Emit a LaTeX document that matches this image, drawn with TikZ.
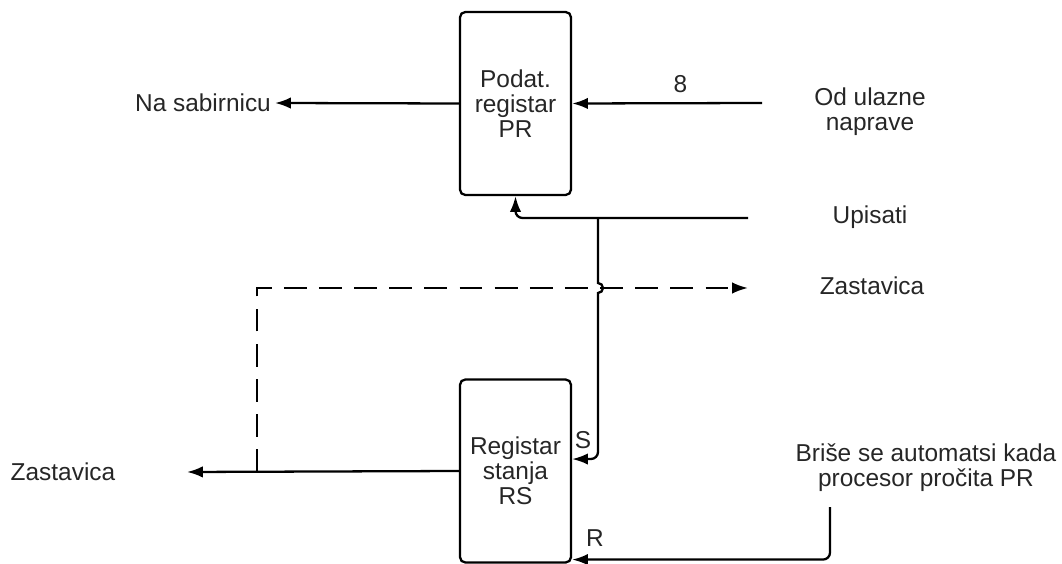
\documentclass[tikz,border=0pt]{standalone}
\usepackage{fontspec}
\setmainfont{Liberation Sans}
\usetikzlibrary{arrows.meta}
\tikzset{>={Latex[length=9pt,width=6.5pt]}}
\tikzset{
  reg/.style={draw, line width=1.3pt, rounded corners=3pt, minimum width=2.22cm, minimum height=3.66cm, align=center, text=black!85},
  lbl/.style={align=center, text=black!85},
  wire/.style={line width=1.3pt},
}

\begin{document}
\begin{tikzpicture}[x=0.02cm, y=-0.02cm, font=\fontsize{13.9}{14.2}\selectfont]
\useasboundingbox (0,0) rectangle (1062,564);

% registers
\node[reg] (pr) at (515.5,103.5) {Podat.\\registar\\PR};
\node[reg] (rs) at (515.5,471) {Registar\\stanja\\RS};

% labels
\node[lbl] (nasab) at (203,103) {Na sabirnicu};
\node[lbl] (odul) at (870,112) {Od ulazne\\naprave};
\node[lbl] (upis) at (870,217) {Upisati};
\node[lbl] (zdes) at (872,286) {Zastavica};
\node[lbl] (zlij) at (63,472) {Zastavica};
\node[lbl] (brise) at (926,468) {Briše se automatsi kada\\procesor pročita PR};

\coordinate (nsend) at (275,103);
\coordinate (in8) at (762,103);
\coordinate (wr) at (748,218);
\coordinate (jn) at (598,218);
\coordinate (zlend) at (187,472);
\coordinate (fl) at (257,472);
\coordinate (clr) at (830,507);

% data register
\draw[wire, ->] (pr.west) -- (nsend);
\draw[wire, ->] (in8) -- (pr.east) node[pos=0.43, above=2pt, lbl] {8};
\draw[wire, ->, rounded corners=4pt] (wr) -| (pr.south);

% set input with hop over the flag line
\draw[wire] (jn) -- (598,283) arc[start angle=-90, end angle=90, radius=5] -- (598,300);
\draw[wire, ->, rounded corners=4pt] (598,300) -- (598,459) -- ([yshift=6.8pt]rs.east);

% flag
\draw[wire, ->] (rs.west) -- (zlend);
\draw[wire, dash pattern=on 13pt off 7pt, ->] (fl) -- (257,288) -- (748,288);

% reset input
\draw[wire, ->, rounded corners=4pt] (clr) |- ([yshift=2.3pt]rs.south east);
\node[lbl] at (583,440) {S};
\node[lbl] at (595,538) {R};

\end{tikzpicture}
\end{document}
